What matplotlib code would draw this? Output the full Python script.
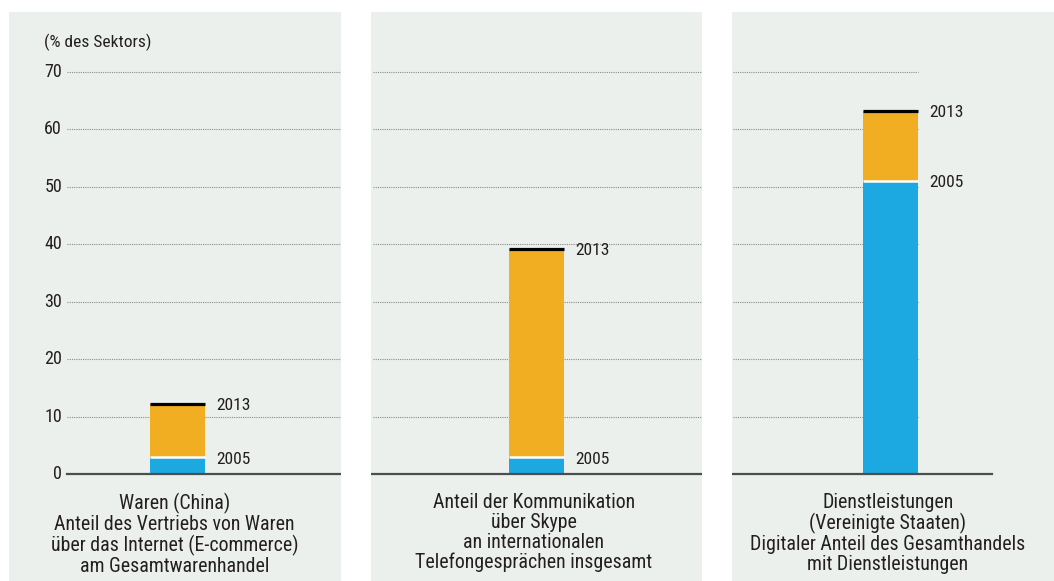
import matplotlib.pyplot as plt

# data (% des Sektors)
categories = ['Waren (China)\nAnteil des Vertriebs von Waren\nüber das Internet (E-commerce)\nam Gesamtwarenhandel',
              'Anteil der Kommunikation\nüber Skype\nan internationalen\nTelefongesprächen insgesamt',
              'Dienstleistungen\n(Vereinigte Staaten)\nDigitaler Anteil des Gesamthandels\nmit Dienstleistungen']
val_2005 = [2.9, 2.9, 51.0]
val_2013 = [12.2, 39.2, 63.2]
yticks = [0, 10, 20, 30, 40, 50, 60, 70]

bg = '#ECF0EC'
blue = '#1CA9E1'
orange = '#F1AE22'
txt = '#231F20'

plt.rcParams['font.family'] = ['Roboto Condensed', 'Liberation Sans Narrow', 'Roboto', 'DejaVu Sans']

W, H = 1054, 581
fig = plt.figure(figsize=(W / 100, H / 100), dpi=100)
fig.patch.set_facecolor('white')

# panel pixel extents: left, right, bar center
panels = [(9, 341, 177.5), (371, 702, 536.5), (732, 1054, 890.5)]
grid_span = [(0.175, 1.0), (0.006, 1.0), (0.003, 0.578)]
base_span = [(0.175, 1.0), (0.0, 1.0), (0.0, 0.807)]
top_px, base_px, seventy_px = 12, 474, 72
ppu = (base_px - seventy_px) / 70.0
ymax = (base_px - top_px) / ppu
ymin = -(H - base_px) / ppu
bw = 55.0

for i, (l, r, c) in enumerate(panels):
    ax = fig.add_axes([l / W, 0, (r - l) / W, (H - top_px) / H])
    ax.set_facecolor(bg)
    for s in ax.spines.values():
        s.set_visible(False)
    ax.set_xlim((l - c) / bw, (r - c) / bw)
    ax.set_ylim(ymin, ymax)
    ax.set_xticks([])
    ax.set_yticks([])

    for t in yticks[1:]:
        ax.axhline(t, xmin=grid_span[i][0], xmax=grid_span[i][1], color='#8a8a8a',
                   linestyle=(0, (1, 1)), linewidth=0.8, zorder=1)
    ax.axhline(0, xmin=base_span[i][0], xmax=base_span[i][1], color='#4d4d4d', linewidth=1.6, zorder=3)

    ax.bar([0], [val_2005[i]], width=1.0, color=blue, zorder=2)
    ax.bar([0], [val_2013[i] - val_2005[i]], bottom=[val_2005[i]], width=1.0, color=orange, zorder=2)
    ax.hlines(val_2005[i], -0.5, 0.5, color='white', linewidth=1.8, zorder=4)
    ax.hlines(val_2013[i], -0.5, 0.5, color='black', linewidth=2.3, zorder=4)

    ax.text(0.7, val_2013[i] - 0.3, '2013', fontsize=12.6, color=txt, va='center', ha='left')
    ax.text(0.7, val_2005[i] - 0.3, '2005', fontsize=12.6, color=txt, va='center', ha='left')

    ax.text(-0.05, -3.3, categories[i], fontsize=14.3, color=txt, ha='center', va='top',
            linespacing=1.06)

    if i == 0:
        ytr = ax.get_yaxis_transform()
        for t in yticks:
            ax.text((62 - l) / (r - l), t, str(t), transform=ytr, fontsize=13,
                    color=txt, ha='right', va='center')
        ax.text((44 - l) / (r - l), (H - 42) / (H - top_px), '(% des Sektors)',
                transform=ax.transAxes, fontsize=12.5, color=txt, ha='left', va='center')

fig.savefig('out.png', dpi=100, facecolor='white')
